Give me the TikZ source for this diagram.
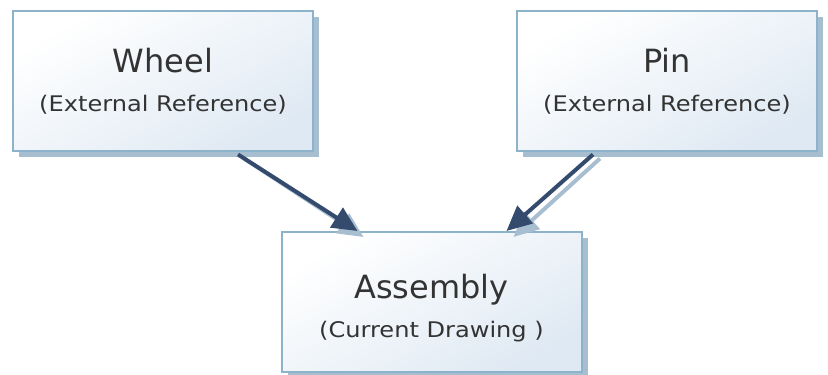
\documentclass[tikz,border=0pt]{standalone}
\usepackage{fontspec}
\setmainfont{DejaVu Sans}
\newfontfamily\subfont[FakeStretch=1.12]{DejaVu Sans}
\usetikzlibrary{arrows.meta}
\usetikzlibrary{shadows}
\usetikzlibrary{calc}
\definecolor{boxline}{HTML}{8DB3CB}
\definecolor{boxfill}{HTML}{DFE9F3}
\definecolor{boxshadow}{HTML}{A6BED0}
\definecolor{linkcol}{HTML}{354B6E}
\definecolor{textcol}{HTML}{333333}
\newcommand{\boxname}[1]{{\rmfamily\fontsize{32}{32}\selectfont #1}}
\tikzset{
	refbox/.style={rectangle, draw=boxline, line width=2pt,
		top color=white, bottom color=boxfill, shading angle=30,
		minimum width=300pt, minimum height=140pt, align=center,
		text=textcol, font=\subfont\fontsize{21.5}{39}\selectfont,
		drop shadow={shadow xshift=6pt, shadow yshift=-6pt, fill=boxshadow, opacity=1}},
	link/.style={linkcol, line width=4pt, -{Triangle[length=25pt,width=23pt]}},
	linkshadow/.style={boxshadow, line width=4pt, -{Triangle[length=25pt,width=23pt]}}
}

\begin{document}
\begin{tikzpicture}[x=1pt,y=1pt]
	\useasboundingbox (0,0) rectangle (828,375);

	\node[refbox] (wheel) at (163,293.5)
	{\boxname{Wheel}\\(External Reference)};
	\node[refbox] (pin) at (667,293.5)
	{\boxname{Pin}\\(External Reference)};
	\node[refbox] (asm) at (431.5,73)
	{\boxname{\rule{0pt}{36pt}Assembly}\\(Current Drawing )};

	% shadows of the links
	\draw[linkshadow] ($(wheel.south)+(81,-6)$) -- ($(asm.north)+(-68,-6)$);
	\draw[linkshadow] ($(pin.south)+(-67,-6)$) -- ($(asm.north)+(82,-6)$);

	\draw[link] ($(wheel.south)+(75,-2)$) -- ($(asm.north)+(-74,0)$);
	\draw[link] ($(pin.south)+(-74,-2)$) -- ($(asm.north)+(75,0)$);
\end{tikzpicture}
\end{document}
